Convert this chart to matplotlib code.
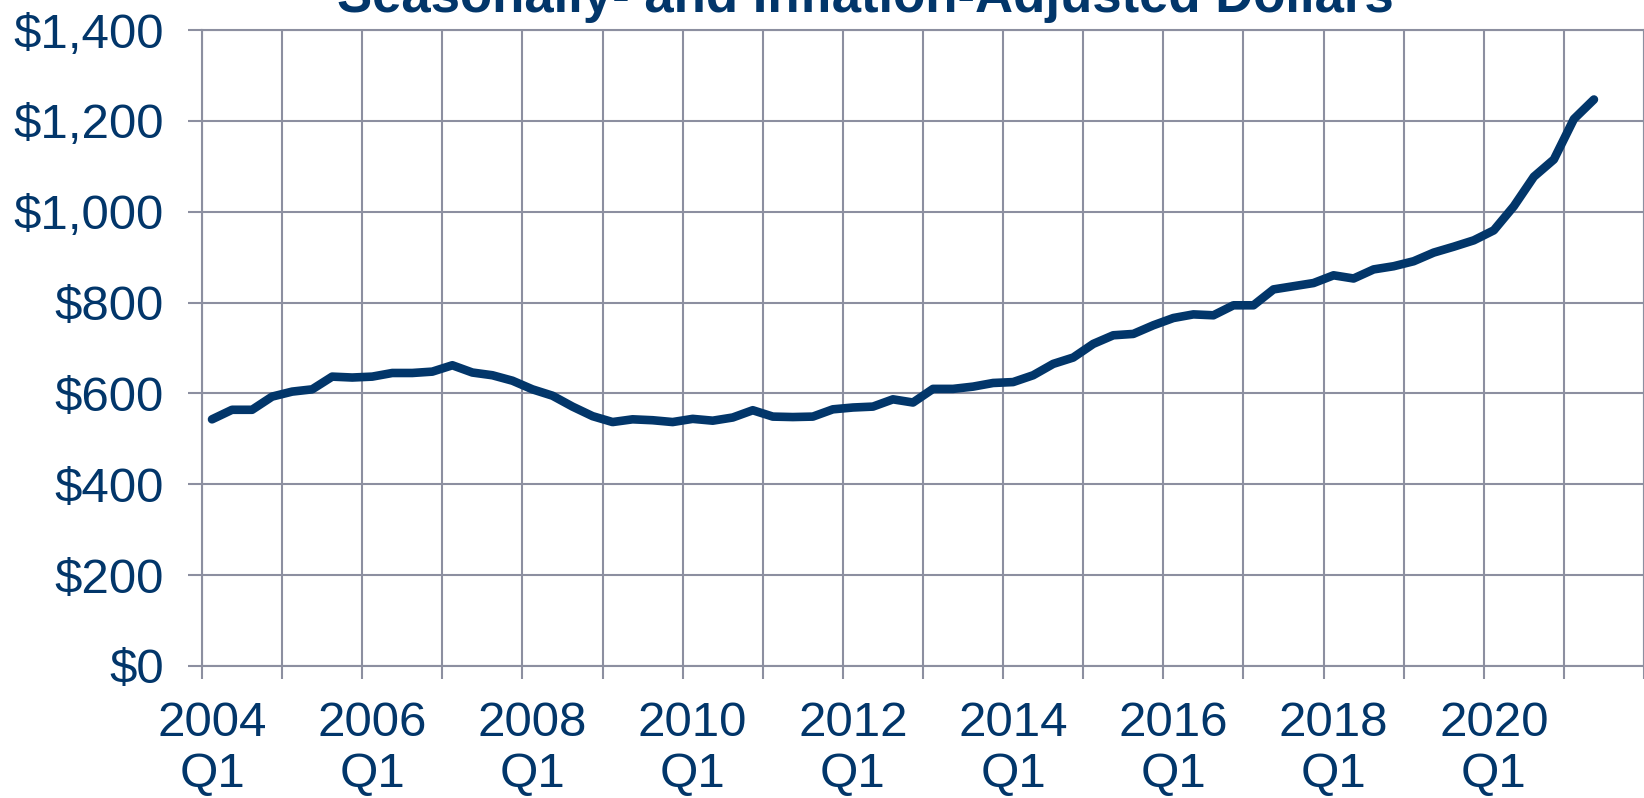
import matplotlib
matplotlib.use("Agg")
import matplotlib.pyplot as plt
import numpy as np

plt.rcParams['font.family'] = ['Liberation Sans', 'DejaVu Sans']

# quarterly values, 2004 Q1 .. 2021 Q2 (seasonally- and inflation-adjusted $)
valores = [543, 564, 564, 593, 604, 609, 637, 635,
           637, 645, 645, 648, 662, 646, 640, 628,
           609, 595, 571, 550, 537, 543, 541, 537,
           544, 540, 547, 563, 549, 548, 549, 565,
           569, 571, 587, 580, 610, 610, 615, 623,
           625, 640, 665, 679, 709, 728, 731, 750,
           766, 774, 772, 794, 794, 829, 836, 843,
           860, 853, 873, 880, 891, 910, 923, 937,
           959, 1012, 1077, 1115, 1204, 1247]
rotulos_x = ["2004\nQ1", "2006\nQ1", "2008\nQ1", "2010\nQ1", "2012\nQ1",
             "2014\nQ1", "2016\nQ1", "2018\nQ1", "2020\nQ1"]
valores_y = [0, 200, 400, 600, 800, 1000, 1200, 1400]
rotulos_y = ["$0", "$200", "$400", "$600", "$800", "$1,000", "$1,200", "$1,400"]
titulo = "Seasonally- and Inflation-Adjusted Dollars"

azul = "#02366a"
cinza = "#8c8fa0"
n_cat = 72  # axis runs through 2021 Q4

fig = plt.figure(figsize=(16.44, 7.98), dpi=100)
ax = fig.add_axes([202 / 1644, 132 / 798, 1 - 202 / 1644, (666 - 30) / 798])

x = np.arange(len(valores))
ax.plot(x, valores, color=azul, lw=6.2, solid_capstyle="round", solid_joinstyle="round", zorder=3)

ax.set_xlim(-0.5, n_cat - 0.5)
ax.set_ylim(0, 1400)

# yearly gridlines / ticks between categories
ax.set_xticks(np.arange(-0.5, n_cat, 4))
ax.set_xticklabels([])
ax.set_xticks(np.arange(0, len(valores), 8), minor=True)
ax.set_xticklabels(rotulos_x, minor=True, fontsize=35.5, color=azul, linespacing=1.18)
ax.tick_params(axis="x", which="major", length=9.5, width=1.5, color=cinza, direction="out")
ax.tick_params(axis="x", which="minor", length=0, pad=25)

ax.set_yticks(valores_y)
ax.set_yticklabels(rotulos_y, fontsize=35.5, color=azul)
ax.tick_params(axis="y", length=10, width=1.5, color=cinza, pad=17.5)

ax.grid(True, which="major", color=cinza, lw=1.5)
ax.set_axisbelow(True)
for s in ax.spines.values():
    s.set_color(cinza)
    s.set_linewidth(1.5)

fig.text(865 / 1644, 1 - 12 / 798, titulo, ha="center", va="baseline",
         fontsize=38, fontweight="bold", color=azul)

fig.savefig("out.png", dpi=100)
